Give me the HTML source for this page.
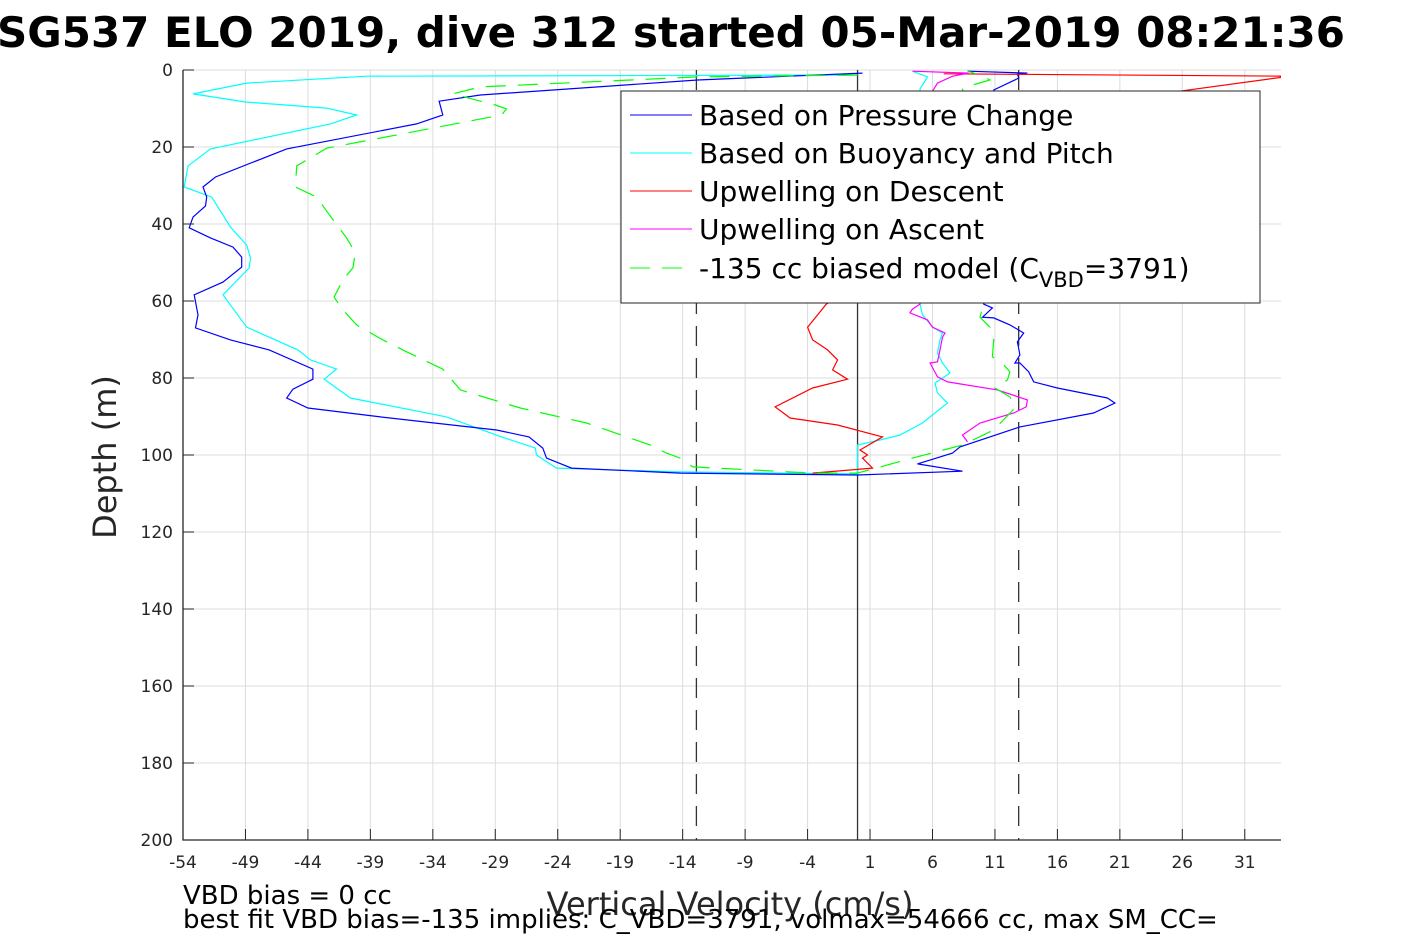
<!DOCTYPE html>
<html><head><meta charset="utf-8"><style>
html,body{margin:0;padding:0;background:#fff;overflow:hidden}
svg{display:block;font-family:"DejaVu Sans","Liberation Sans",sans-serif}
</style></head><body>
<svg id="chart" width="1417" height="945" viewBox="0 0 1417 945">
<text x="-3" y="47" font-size="42" font-weight="bold" fill="#000">SG537 ELO 2019, dive 312 started 05-Mar-2019 08:21:36</text>
<g id="grid"></g>
<g id="refs"></g>
<g id="series"></g>
<g id="axes"></g>
<g>
<rect x="621" y="91" width="639" height="212" fill="#fff" stroke="#262626" stroke-width="1"/>
<g><line x1="630" y1="115" x2="692" y2="115" stroke="#0000ff"/><text x="699" y="125" font-size="28">Based on Pressure Change</text></g>
<g><line x1="630" y1="153" x2="692" y2="153" stroke="#00ffff"/><text x="699" y="163" font-size="28">Based on Buoyancy and Pitch</text></g>
<g><line x1="630" y1="191" x2="692" y2="191" stroke="#ff0000"/><text x="699" y="201" font-size="28">Upwelling on Descent</text></g>
<g><line x1="630" y1="229" x2="692" y2="229" stroke="#ff00ff"/><text x="699" y="239" font-size="28">Upwelling on Ascent</text></g>
<g><line x1="630" y1="268" x2="692" y2="268" stroke="#00ff00" stroke-dasharray="20,12"/><text x="699" y="278" font-size="28">-135 cc biased model (C<tspan font-size="21" dy="9">VBD</tspan><tspan dy="-9">=3791)</tspan></text></g>
</g>
<text transform="translate(116,457) rotate(-90)" text-anchor="middle" font-size="32" fill="#262626">Depth (m)</text>
<text x="730" y="915" text-anchor="middle" font-size="32" fill="#262626">Vertical Velocity (cm/s)</text>
<text x="183" y="904" font-size="26" fill="#000">VBD bias = 0 cc</text>
<text x="183" y="928" font-size="26" fill="#000">best fit VBD bias=-135 implies: C_VBD=3791, volmax=54666 cc, max SM_CC=</text>
</svg>
<script>
const xTicks=[-54,-49,-44,-39,-34,-29,-24,-19,-14,-9,-4,1,6,11,16,21,26,31];
const yTicks=[0,20,40,60,80,100,120,140,160,180,200];
const refVel=[-12.9,12.9];
const pressV=[0.4,-12.8,-30.2,-33.5,-33.2,-35.3,-45.7,-51.4,-52.4,-52.1,-52.2,-53.2,-53.5,-51.8,-50.0,-49.3,-49.3,-50.8,-53.1,-52.8,-53.0,-50.2,-47.1,-43.6,-43.6,-45.2,-45.7,-44.0,-38.2,-28.9,-26.3,-25.2,-24.9,-22.9,-14.2,0,8.4,4.8,7.6,8.2,13.0,18.9,20.6,20.0,16.0,14.1,13.7,13.0,12.6,13.0,12.8,13.3,12.2,10.9,10.0,10.8,10.1,10.9,12.9,12.8,13.6,8.8];
const pressD=[0.8,2.6,6.5,8.1,11.7,14.0,20.5,27.8,30.4,33.0,35.3,38.2,41.0,43.6,46.0,48.6,51.2,55.1,58.4,63.6,67.0,70.1,72.7,77.7,80.3,82.9,85.2,87.8,90.1,93.5,95.3,98.2,100.8,103.4,104.7,105.2,104.2,102.3,99.5,97.9,92.7,89.1,86.5,85.2,82.6,81.0,78.4,76.1,76.1,74.0,70.6,68.3,66.2,64.4,64.2,61.8,60.8,5.2,2.1,1.0,0.8,0.3];
const buoyV=[0.0,-39.3,-48.9,-53.2,-49.0,-42.5,-40.1,-42.2,-51.8,-53.6,-53.9,-51.7,-50.2,-48.9,-48.6,-48.7,-50.8,-48.9,-44.8,-43.8,-41.7,-42.7,-40.6,-32.9,-28.5,-25.8,-25.7,-24.1,-14.2,0.0,0.0,1.8,3.4,5.2,7.2,6.4,6.2,7.4,6.8,6.4,6.6,6.8,6.0,5.2,5.0,5.0,5.6,4.4];
const buoyD=[1.3,1.6,3.4,6.2,8.3,9.9,11.7,14.0,20.5,24.9,30.4,33.0,40.8,45.5,48.8,51.4,58.4,66.8,72.7,75.3,77.7,80.3,85.2,90.1,95.3,98.2,100.0,103.4,104.4,104.9,97.4,96.1,94.8,91.7,86.5,83.9,81.3,78.7,76.1,73.5,70.1,68.3,66.8,63.6,60.8,4.9,1.8,0.3];
const upDescV=[6.9,34.6,25.8,-2.5,-4.0,-3.6,-2.4,-1.6,-2.0,-0.8,-3.6,-6.6,-5.4,-1.6,2.0,0.2,0.8,0.4,1.2,-3.6];
const upDescD=[1.0,1.6,5.5,60.8,66.8,70.1,72.7,75.3,77.9,80.3,82.6,87.5,90.4,92.2,95.3,98.7,100.0,100.8,103.4,104.7];
const upAscV=[8.8,8.4,9.8,12.5,13.5,13.6,11.2,7.2,6.4,5.8,6.4,6.6,6.8,7.0,6.0,5.6,4.2,4.4,5.0,6.0,6.4,7.6,8.9,4.4];
const upAscD=[96.6,94.8,91.7,89.1,87.5,85.7,83.1,81.0,79.7,76.1,75.8,72.7,69.4,68.3,66.8,64.9,63.1,62.1,60.8,5.5,3.4,1.6,0.8,0.3];
const modelV=[0.0,-12.8,-30.2,-32.4,-29.0,-28.1,-28.5,-34.0,-42.5,-44.9,-45.0,-43.3,-42.4,-40.9,-40.2,-40.4,-41.2,-41.9,-41.2,-40.1,-38.0,-36.1,-33.2,-31.8,-27.0,-21.7,-16.6,-15.3,-14.2,-13.2,-3.6,0.0,4.4,8.4,10.9,12.6,12.2,11.0,12.0,12.2,11.7,10.8,10.9,10.6,9.8,10.0,8.4,9.2,10.6,9.8,8.8];
const modelD=[1.3,1.8,4.4,6.2,9.1,10.1,11.7,15.1,20.3,24.9,30.4,33.0,37.1,43.6,47.5,51.4,54.5,59.0,62.3,66.2,70.1,73.2,77.7,83.1,87.8,91.7,97.4,99.5,100.8,103.1,104.7,104.7,100.8,97.4,93.5,87.8,84.9,82.6,80.5,78.4,76.6,74.5,70.1,66.8,64.2,61.8,4.9,3.9,2.6,1.3,0.3];

const NS='http://www.w3.org/2000/svg';
const X0=183,X1=1281,XMIN=-54,XMAX=33.9,Y0=70,Y1=840,DMIN=0,DMAX=200;
function sx(v){return X0+(v-XMIN)/(XMAX-XMIN)*(X1-X0);}
function sy(d){return Y0+(d-DMIN)/(DMAX-DMIN)*(Y1-Y0);}
function mk(tag,attrs,parent){const e=document.createElementNS(NS,tag);for(const k in attrs)e.setAttribute(k,attrs[k]);parent.appendChild(e);return e;}
const grid=document.getElementById('grid'),axes=document.getElementById('axes'),refs=document.getElementById('refs'),series=document.getElementById('series');
xTicks.forEach(t=>{const x=sx(t);
 const g=mk('line',{x1:x,y1:Y0,x2:x,y2:Y1,stroke:'#dcdcdc','stroke-width':1},grid);
 
 
 const tk=mk('line',{x1:x,y1:Y1,x2:x,y2:Y1-11,stroke:'#262626'},axes);
 
 
 const lb=mk('text',{x:x,y:Y1+28,'text-anchor':'middle','font-size':17,fill:'#262626'},axes);lb.textContent=t;
 
 
});
yTicks.forEach(t=>{const y=sy(t);
 const g=mk('line',{x1:X0,y1:y,x2:X1,y2:y,stroke:'#dcdcdc','stroke-width':1},grid);
 
 
 const tk=mk('line',{x1:X0,y1:y,x2:X0+11,y2:y,stroke:'#262626'},axes);
 
 
 const lb=mk('text',{x:X0-10,y:y+6,'text-anchor':'end','font-size':17,fill:'#262626'},axes);lb.textContent=t;
 
 
});
const ax=mk('path',{d:`M${X0},${Y0} V${Y1} H${X1}`,fill:'none',stroke:'#262626','stroke-width':1.3},axes);


refVel.forEach(v=>{const l=mk('line',{x1:sx(v),y1:Y0,x2:sx(v),y2:Y1,stroke:'#333','stroke-width':1.3,'stroke-dasharray':'20,12'},refs);
 
 });
const zl=mk('line',{x1:sx(0),y1:Y0,x2:sx(0),y2:Y1,stroke:'#333','stroke-width':1.3},refs);


const cp=mk('clipPath',{id:'plotclip'},document.getElementById('chart'));
mk('rect',{x:X0,y:Y0-2,width:X1-X0,height:Y1-Y0+2},cp);
function line(vs,ds,color,name,dash){
 const pts=vs.map((v,i)=>sx(v).toFixed(1)+','+sy(ds[i]).toFixed(1)).join(' ');
 const a={points:pts,fill:'none',stroke:color,'stroke-width':1.2,'clip-path':'url(#plotclip)'};
 if(dash)a['stroke-dasharray']=dash;
 const p=mk('polyline',a,series);
 
 
}
line(buoyV,buoyD,'#00ffff','buoyancy-velocity-line');
line(pressV,pressD,'#0000ff','pressure-velocity-line');
line(upDescV,upDescD,'#ff0000','upwelling-descent-line');
line(upAscV,upAscD,'#ff00ff','upwelling-ascent-line');
line(modelV,modelD,'#00ff00','biased-model-line','20,12');
</script>
</body></html>
